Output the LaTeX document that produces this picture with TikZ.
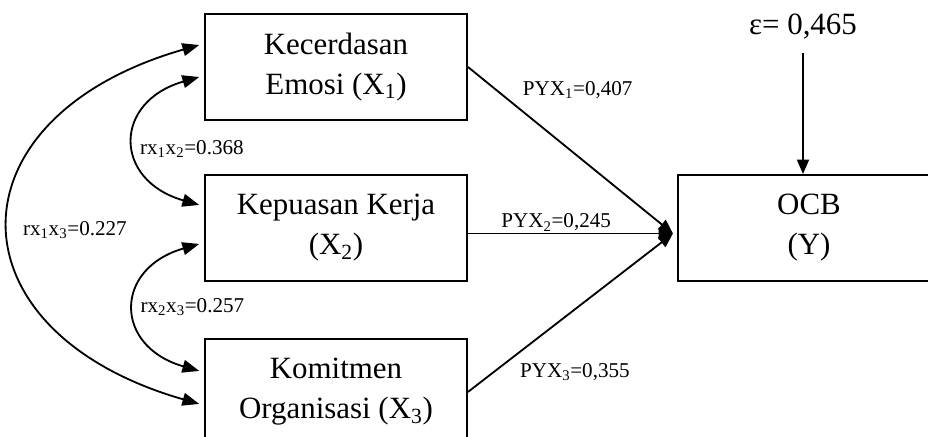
\documentclass[tikz,border=0pt]{standalone}
\usepackage{fontspec}
\setmainfont{Liberation Serif}
\usetikzlibrary{arrows.meta,positioning,calc}
\tikzset{
  var/.style={draw,line width=1.4pt,minimum width=6.55cm,minimum height=2.65cm,align=center,inner sep=0pt,font=\fontsize{22}{28.5}\selectfont},
  jalur/.style={-{Triangle[length=3.6mm,width=3mm]},line width=1.3pt},
  korel/.style={{Triangle[length=4.2mm,width=3.2mm]}-{Triangle[length=4.2mm,width=3.2mm]},line width=1.3pt},
  lab/.style={font=\fontsize{15}{18}\selectfont},
}
\begin{document}
\begin{tikzpicture}
  \useasboundingbox (0,0) rectangle (23.2,10.925);
  \clip (0,0) rectangle (23.2,10.925);
  % variabel
  \node[var] (x1) at (8.4,9.25) {Kecerdasan\\Emosi (X\textsubscript{1})};
  \node[var,below=1.325cm of x1] (x2) {Kepuasan Kerja\\(X\textsubscript{2})};
  \node[var,below=1.4cm of x2] (x3) {Komitmen\\Organisasi (X\textsubscript{3})};
  \node[var,right=5.225cm of x2] (y) {OCB\\(Y)};
  \node[font=\fontsize{22}{26}\selectfont] (eps) at (20.075,10.25) {ε= 0,465};
  \coordinate (hub) at ([xshift=-0.1cm,yshift=-0.14cm]y.west);
  % jalur
  \draw[jalur] ([yshift=-0.2cm]eps.south) -- (eps.south |- y.north);
  \draw[jalur] (x1.east) -- (hub) node[lab,pos=0.5,xshift=0.18cm,yshift=1.5cm] {PYX\textsubscript{1}=0,407};
  \draw[jalur] (x2.east |- hub) -- (hub) node[lab,pos=0.43,above,inner sep=1pt] {PYX\textsubscript{2}=0,245};
  \draw[jalur] (x3.east) -- (hub) node[lab,pos=0.5,xshift=0.11cm,yshift=-1.48cm] {PYX\textsubscript{3}=0,355};
  % korelasi
  \draw[korel] ([xshift=-0.12cm,yshift=-0.25cm]x1.west) to[out=196,in=164,looseness=1.8]
    node[lab,right,yshift=-0.2cm] {rx\textsubscript{1}x\textsubscript{2}=0.368} ([xshift=-0.12cm,yshift=0.575cm]x2.west);
  \draw[korel] ([xshift=-0.12cm,yshift=-0.4cm]x2.west) to[out=196,in=164,looseness=1.8]
    node[lab,right] {rx\textsubscript{2}x\textsubscript{3}=0.257} ([xshift=-0.12cm,yshift=0.525cm]x3.west);
  \draw[korel] ([xshift=-0.12cm,yshift=0.55cm]x1.west) to[out=196,in=164,looseness=1.88]
    node[lab,right,xshift=0.2cm,yshift=-0.15cm] {rx\textsubscript{1}x\textsubscript{3}=0.227} ([xshift=-0.12cm,yshift=-0.3cm]x3.west);
\end{tikzpicture}
\end{document}
